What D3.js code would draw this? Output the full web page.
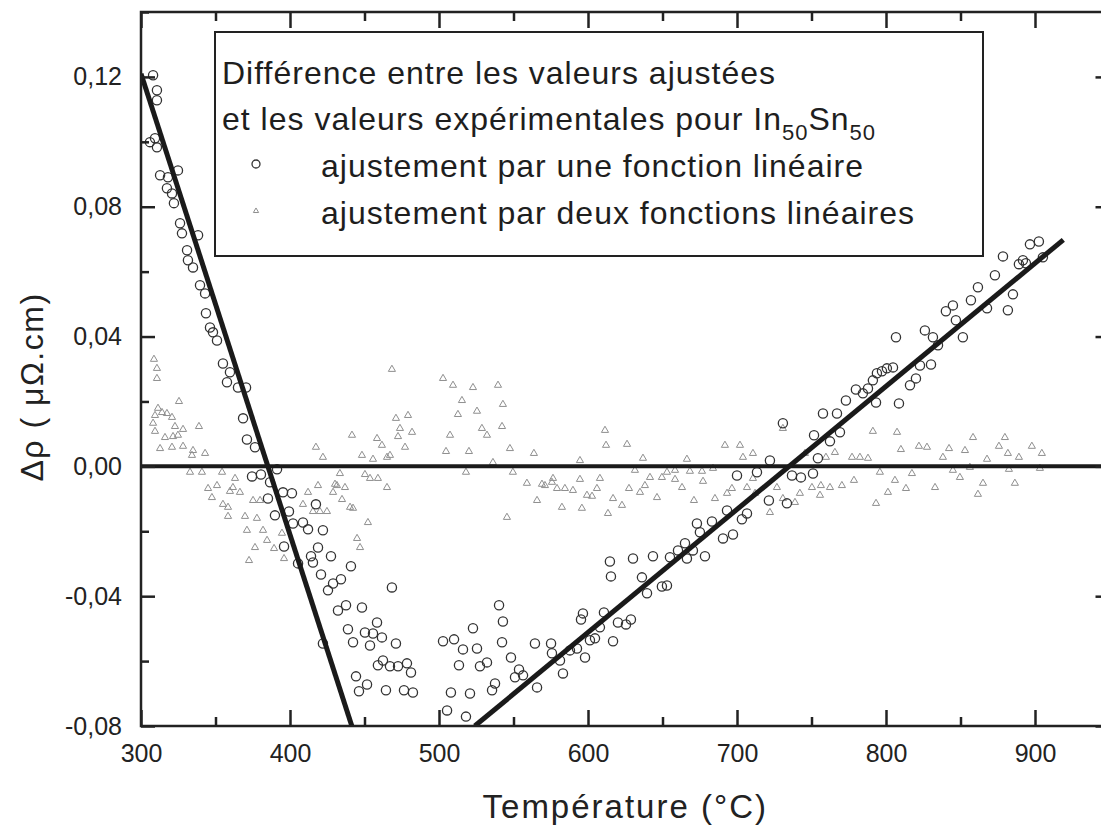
<!DOCTYPE html>
<meta charset="utf-8">
<head>
<title>Différence entre les valeurs ajustées et expérimentales</title>
</head>
<style>
body{
	margin: 0;
	background: #fff;
}
svg{
	display: block;
	font-family: "Liberation Sans", Arial, sans-serif;
}
.tick line{
	stroke: #222;
	stroke-width: 2.5;
}
.legend text{
	font-size: 32px;
	fill: #1e1e1e;
	letter-spacing: 1px;
}
</style>
<body>
<svg width="1101" height="827"></svg>

<script src="https://cdnjs.cloudflare.com/ajax/libs/d3/7.8.5/d3.min.js"></script>
<script>

// ticks
var xMajor = [300, 400, 500, 600, 700, 800, 900];
var xMinor = [350, 450, 550, 650, 750, 850, 950];
var yMajor = [-0.08, -0.04, 0.00, 0.04, 0.08, 0.12];
var yMinor = [-0.06, -0.02, 0.02, 0.06, 0.10, 0.14];

// fitted straight lines (temperature, delta rho)
var fitDown = [[300, 0.121], [441.5, -0.08]];
var fitUp = [[524, -0.08], [919, 0.0698]];
var zeroLine = [[300, 0], [950, 0]];

// residuals, one linear fit (circles)
var oneFit = [
	[308.1,0.1205],[310.7,0.1159],[310.7,0.1128],[306.0,0.0999],[309.4,0.1011],[310.7,0.0983],
	[312.8,0.0897],[318.1,0.0891],[324.8,0.0912],[317.4,0.0857],[320.8,0.0841],[322.1,0.0811],
	[326.2,0.0749],[327.5,0.0718],[338.3,0.0712],[330.9,0.0666],[331.5,0.0635],[334.9,0.0613],
	[339.6,0.0558],[343.0,0.0533],[343.6,0.0472],[346.3,0.0428],[348.3,0.0413],[351.0,0.0388],
	[355.0,0.0317],[359.7,0.0290],[357.7,0.0259],[365.1,0.0243],[370.5,0.0243],[368.5,0.0148],
	[371.1,0.0083],[376.5,0.0059],[374.5,-0.0031],[380.5,-0.0025],[391.3,-0.0009],[386.6,-0.0049],
	[385.2,-0.0099],[395.3,-0.0080],[401.3,-0.0083],[417.4,-0.0117],[389.9,-0.0151],[399.3,-0.0139],
	[402.0,-0.0176],[408.7,-0.0173],[412.1,-0.0194],[422.1,-0.0197],[396.0,-0.0247],[405.4,-0.0299],
	[418.8,-0.0250],[414.1,-0.0277],[415.4,-0.0296],[427.5,-0.0277],[420.8,-0.0333],[440.9,-0.0308],
	[425.5,-0.0382],[428.9,-0.0361],[434.2,-0.0348],[432.2,-0.0444],[437.6,-0.0428],[448.3,-0.0435],
	[468.4,-0.0373],[438.9,-0.0502],[458.4,-0.0481],[442.3,-0.0542],[450.3,-0.0512],[455.7,-0.0515],
	[461.7,-0.0527],[453.7,-0.0552],[471.1,-0.0546],[422.1,-0.0546],[462.4,-0.0598],[459.0,-0.0613],
	[467.1,-0.0616],[472.5,-0.0616],[478.5,-0.0607],[481.2,-0.0635],[444.3,-0.0647],[451.7,-0.0672],
	[446.3,-0.0693],[464.4,-0.0690],[476.5,-0.0690],[482.5,-0.0697],[502.7,-0.0539],[510.1,-0.0533],
	[516.1,-0.0564],[522.8,-0.0499],[525.5,-0.0561],[513.4,-0.0613],[527.5,-0.0616],[532.2,-0.0604],
	[540.3,-0.0428],[542.9,-0.0478],[542.3,-0.0542],[548.3,-0.0589],[553.7,-0.0626],[551.0,-0.0650],
	[537.6,-0.0669],[535.6,-0.0690],[508.0,-0.0697],[520.8,-0.0700],[505.4,-0.0752],[518.1,-0.0771],
	[556.4,-0.0644],[564.4,-0.0546],[565.8,-0.0681],[575.2,-0.0546],[575.8,-0.0576],[581.2,-0.0598],
	[583.2,-0.0638],[587.9,-0.0567],[592.6,-0.0561],[595.3,-0.0472],[596.6,-0.0453],[601.3,-0.0536],
	[604.7,-0.0530],[598.0,-0.0589],[608.0,-0.0496],[610.7,-0.0450],[616.8,-0.0539],[620.1,-0.0481],
	[625.5,-0.0487],[628.8,-0.0472],[614.7,-0.0293],[615.4,-0.0339],[630.2,-0.0284],[636.2,-0.0342],
	[639.6,-0.0391],[643.6,-0.0277],[649.6,-0.0370],[653.0,-0.0367],[655.0,-0.0280],[660.4,-0.0259],
	[665.1,-0.0237],[666.4,-0.0284],[670.4,-0.0259],[673.1,-0.0176],[678.5,-0.0277],[675.1,-0.0203],
	[683.2,-0.0170],[690.6,-0.0222],[697.3,-0.0210],[693.3,-0.0136],[703.3,-0.0163],[706.7,-0.0145],
	[700.0,-0.0028],[713.4,-0.0018],[722.1,0.0018],[721.4,-0.0105],[730.8,0.0133],[733.5,-0.0114],
	[736.9,-0.0028],[742.9,-0.0034],[751.0,-0.0022],[751.7,0.0096],[754.3,0.0025],[762.4,0.0077],
	[757.7,0.0163],[769.1,0.0105],[767.1,0.0163],[773.1,0.0203],[779.8,0.0237],[784.5,0.0225],
	[787.9,0.0240],[791.2,0.0265],[793.3,0.0197],[793.9,0.0287],[797.3,0.0293],[800.6,0.0302],
	[804.7,0.0305],[806.7,0.0398],[808.7,0.0194],[816.1,0.0250],[820.1,0.0271],[822.8,0.0311],
	[830.2,0.0314],[826.1,0.0419],[831.5,0.0398],[834.9,0.0373],[840.2,0.0478],[844.9,0.0496],
	[846.9,0.0450],[851.6,0.0398],[857.0,0.0512],[861.7,0.0552],[867.8,0.0487],[873.1,0.0589],
	[878.5,0.0647],[881.8,0.0481],[885.2,0.0530],[889.2,0.0623],[893.9,0.0626],[902.6,0.0693],
	[896.6,0.0684],[891.9,0.0635],[905.3,0.0644]
];

// residuals, two linear fits (triangles)
var twoFit = [
	[308.7,0.0330],[310.7,0.0302],[310.7,0.0271],[325.5,0.0200],[311.4,0.0179],[314.1,0.0166],
	[309.4,0.0157],[317.4,0.0163],[320.8,0.0151],[308.1,0.0133],[309.4,0.0108],[322.8,0.0123],
	[328.2,0.0114],[338.9,0.0123],[316.1,0.0089],[321.5,0.0092],[324.8,0.0096],[312.8,0.0055],
	[320.8,0.0059],[328.2,0.0062],[334.9,0.0049],[334.2,0.0034],[343.0,0.0040],[332.9,-0.0018],
	[340.9,-0.0018],[354.4,-0.0018],[351.0,-0.0059],[345.0,-0.0068],[347.6,-0.0096],[363.1,-0.0037],
	[361.7,-0.0065],[366.4,-0.0080],[359.7,-0.0077],[355.0,-0.0117],[358.4,-0.0126],[358.4,-0.0154],
	[369.8,-0.0154],[377.8,-0.0160],[371.1,-0.0197],[381.9,-0.0197],[384.6,-0.0228],[376.5,-0.0250],
	[375.2,-0.0105],[379.9,-0.0105],[394.6,-0.0206],[408.7,-0.0117],[417.4,0.0059],[422.1,0.0028],
	[418.8,-0.0059],[412.1,-0.0080],[428.9,-0.0080],[431.5,-0.0059],[436.9,-0.0065],[434.9,-0.0102],
	[442.3,-0.0129],[424.8,-0.0139],[415.4,-0.0139],[420.1,-0.0139],[433.5,-0.0022],[441.6,0.0096],
	[448.3,0.0034],[455.7,0.0022],[458.4,0.0086],[461.7,0.0065],[467.1,0.0034],[465.1,0.0028],
	[452.3,-0.0173],[445.0,-0.0222],[447.0,-0.0250],[450.3,-0.0025],[453.7,-0.0037],[459.0,-0.0037],
	[465.1,-0.0065],[468.4,0.0299],[471.1,0.0148],[479.2,0.0157],[473.8,0.0117],[472.5,0.0092],
	[481.9,0.0105],[477.2,0.0059],[502.7,0.0271],[509.4,0.0250],[522.8,0.0243],[539.6,0.0250],
	[515.4,0.0203],[525.5,0.0170],[512.7,0.0160],[542.9,0.0191],[528.8,0.0117],[532.2,0.0096],
	[542.3,0.0123],[507.4,0.0096],[504.7,0.0046],[520.1,0.0046],[547.6,0.0055],[563.7,0.0040],
	[518.1,-0.0018],[536.2,0.0012],[549.6,-0.0018],[559.0,-0.0052],[569.1,-0.0055],[575.8,-0.0049],
	[565.8,-0.0105],[545.6,-0.0157],[372.5,-0.0290],[396.0,-0.0284],[389.3,-0.0253],[430.2,-0.0055],
	[440.3,-0.0126],[611.4,0.0111],[612.1,0.0065],[626.2,0.0068],[594.6,0.0018],[636.9,0.0025],
	[666.4,0.0022],[631.5,-0.0012],[641.6,-0.0034],[649.6,-0.0034],[653.0,-0.0018],[658.4,-0.0012],
	[668.4,-0.0015],[676.5,-0.0015],[683.9,-0.0006],[576.5,-0.0037],[594.6,-0.0040],[608.0,-0.0037],
	[571.1,-0.0059],[579.2,-0.0068],[584.5,-0.0068],[589.9,-0.0074],[599.3,-0.0089],[602.7,-0.0092],
	[606.0,-0.0068],[616.8,-0.0099],[622.8,-0.0120],[627.5,-0.0068],[634.9,-0.0080],[638.2,-0.0059],
	[646.3,-0.0096],[658.4,-0.0040],[663.1,-0.0065],[677.2,-0.0046],[671.1,-0.0105],[685.2,-0.0099],
	[693.3,-0.0083],[696.6,-0.0068],[582.5,-0.0126],[595.9,-0.0129],[613.4,-0.0145],[691.9,0.0065],
	[704.0,0.0028],[710.7,0.0040],[710.7,-0.0037],[706.7,-0.0065],[712.1,-0.0083],[722.1,-0.0142],
	[726.8,-0.0065],[730.8,-0.0099],[738.9,-0.0111],[742.2,-0.0083],[750.3,-0.0065],[756.3,-0.0059],
	[745.6,0.0040],[759.7,0.0028],[765.7,0.0043],[777.2,0.0028],[782.5,0.0028],[787.9,0.0025],
	[791.2,0.0108],[778.5,-0.0043],[795.9,-0.0018],[806.0,-0.0043],[817.4,-0.0022],[832.9,-0.0065],
	[813.4,-0.0068],[801.3,-0.0080],[793.3,-0.0114],[810.0,0.0052],[822.1,0.0062],[827.5,0.0059],
	[842.3,0.0055],[853.0,0.0049],[858.4,0.0089],[875.8,0.0062],[881.8,0.0040],[838.2,0.0028],
	[844.9,-0.0012],[849.6,-0.0034],[856.3,-0.0003],[867.8,0.0022],[882.5,-0.0009],[865.1,-0.0052],
	[861.7,-0.0086],[807.4,0.0105],[879.8,0.0089],[897.9,0.0062],[904.6,0.0040],[889.2,0.0028],
	[886.5,-0.0052],[903.3,-0.0006],[762.4,-0.0065],[770.4,-0.0059],[755.7,-0.0089],[702.0,0.0065],
	[730.8,0.0117]
];

var svg = d3.select('svg');
var mLeft = 141, mTop = 12, mBottom = 726, mRight = 1109.5;

var x = d3.scaleLinear().domain([300, 950]).range([mLeft, mRight]);
var y = d3.scaleLinear().domain([-0.08, 0.14]).range([mBottom, mTop]);

var fmt = function(v){ return v.toFixed(2).replace('.', ','); };

// clip for the plot
svg.append('clipPath').attr('id', 'plot')
	.append('rect')
	.attr('x', mLeft).attr('y', mTop)
	.attr('width', mRight - mLeft).attr('height', mBottom - mTop);

var plot = svg.append('g').attr('clip-path', 'url(#plot)');

// triangles
plot.append('g')
	.selectAll('path')
	.data(twoFit)
	.enter()
	.append('path')
	.attr('d', d3.symbol().type(d3.symbolTriangle).size(22))
	.attr('transform', function(d){
		return 'translate(' + x(d[0]) + ',' + y(d[1]) + ')';
	})
	.attr('fill', 'none')
	.attr('stroke', '#8f8f8f')
	.attr('stroke-width', 1);

// circles
plot.append('g')
	.selectAll('circle')
	.data(oneFit)
	.enter()
	.append('circle')
	.attr('cx', function(d){ return x(d[0]); })
	.attr('cy', function(d){ return y(d[1]); })
	.attr('r', 4.6)
	.attr('fill', 'none')
	.attr('stroke', '#333')
	.attr('stroke-width', 1.3);

var line = d3.line()
	.x(function(d){ return x(d[0]); })
	.y(function(d){ return y(d[1]); });

plot.append('path').datum(zeroLine)
	.attr('d', line).attr('stroke', '#1a1a1a').attr('stroke-width', 4).attr('fill', 'none');
plot.append('path').datum(fitDown)
	.attr('d', line).attr('stroke', '#1a1a1a').attr('stroke-width', 5).attr('fill', 'none');
plot.append('path').datum(fitUp)
	.attr('d', line).attr('stroke', '#1a1a1a').attr('stroke-width', 5).attr('fill', 'none');

// axes, ticks pointing inwards
function axisGroup(axis, tx, ty){
	var g = svg.append('g')
		.attr('transform', 'translate(' + tx + ',' + ty + ')')
		.call(axis);
	g.select('.domain').remove();
	g.attr('font-family', null).attr('font-size', 25);
	g.selectAll('.tick text').attr('fill', '#222');
	g.selectAll('.tick line').attr('stroke', '#222').attr('stroke-width', 2.5);
	return g;
}

axisGroup(d3.axisBottom(x).tickValues(xMajor).tickSize(-16).tickPadding(18), 0, mBottom);
axisGroup(d3.axisBottom(x).tickValues(xMinor).tickSize(-9).tickFormat(''), 0, mBottom);
axisGroup(d3.axisTop(x).tickValues(xMajor).tickSize(-16).tickFormat(''), 0, mTop);
axisGroup(d3.axisTop(x).tickValues(xMinor).tickSize(-9).tickFormat(''), 0, mTop);
axisGroup(d3.axisLeft(y).tickValues(yMajor).tickSize(-14).tickPadding(19).tickFormat(fmt), mLeft, 0);
axisGroup(d3.axisLeft(y).tickValues(yMinor).tickSize(-8).tickFormat(''), mLeft, 0);
axisGroup(d3.axisRight(y).tickValues(yMajor).tickSize(-14).tickFormat(''), mRight, 0);
axisGroup(d3.axisRight(y).tickValues(yMinor).tickSize(-8).tickFormat(''), mRight, 0);

svg.append('rect')
	.attr('x', mLeft).attr('y', mTop)
	.attr('width', mRight - mLeft).attr('height', mBottom - mTop)
	.attr('fill', 'none')
	.attr('stroke', '#222')
	.attr('stroke-width', 2.5);

// axis titles
svg.append('text')
	.attr('x', (mLeft + mRight) / 2)
	.attr('y', 818)
	.attr('text-anchor', 'middle')
	.attr('font-size', 33)
	.attr('letter-spacing', 2)
	.attr('fill', '#222')
	.text('Température (°C)');

svg.append('text')
	.attr('transform', 'translate(43,387) rotate(-90)')
	.attr('text-anchor', 'middle')
	.attr('font-size', 32)
	.attr('letter-spacing', 1.5)
	.attr('fill', '#222')
	.text('Δρ ( μΩ.cm)');

// legend
var lg = svg.append('g').attr('class', 'legend');
lg.append('rect')
	.attr('x', 215).attr('y', 32)
	.attr('width', 768).attr('height', 224)
	.attr('fill', '#fff')
	.attr('stroke', '#222')
	.attr('stroke-width', 2);

lg.append('text').attr('x', 222).attr('y', 84)
	.text('Différence entre les valeurs ajustées');

var l2 = lg.append('text').attr('x', 222).attr('y', 130);
l2.append('tspan').text('et les valeurs expérimentales pour In');
l2.append('tspan').attr('dy', 10).attr('font-size', 22).text('50');
l2.append('tspan').attr('dy', -10).text('Sn');
l2.append('tspan').attr('dy', 10).attr('font-size', 22).text('50');

lg.append('text').attr('x', 321).attr('y', 177)
	.text('ajustement par une fonction linéaire');
lg.append('text').attr('x', 321).attr('y', 224)
	.text('ajustement par deux fonctions linéaires');

lg.append('circle')
	.attr('cx', 256).attr('cy', 164).attr('r', 4)
	.attr('fill', 'none').attr('stroke', '#333').attr('stroke-width', 1.3);
lg.append('path')
	.attr('d', d3.symbol().type(d3.symbolTriangle).size(12))
	.attr('transform', 'translate(256,211)')
	.attr('fill', 'none').attr('stroke', '#8f8f8f').attr('stroke-width', 1);

</script>
</body>
